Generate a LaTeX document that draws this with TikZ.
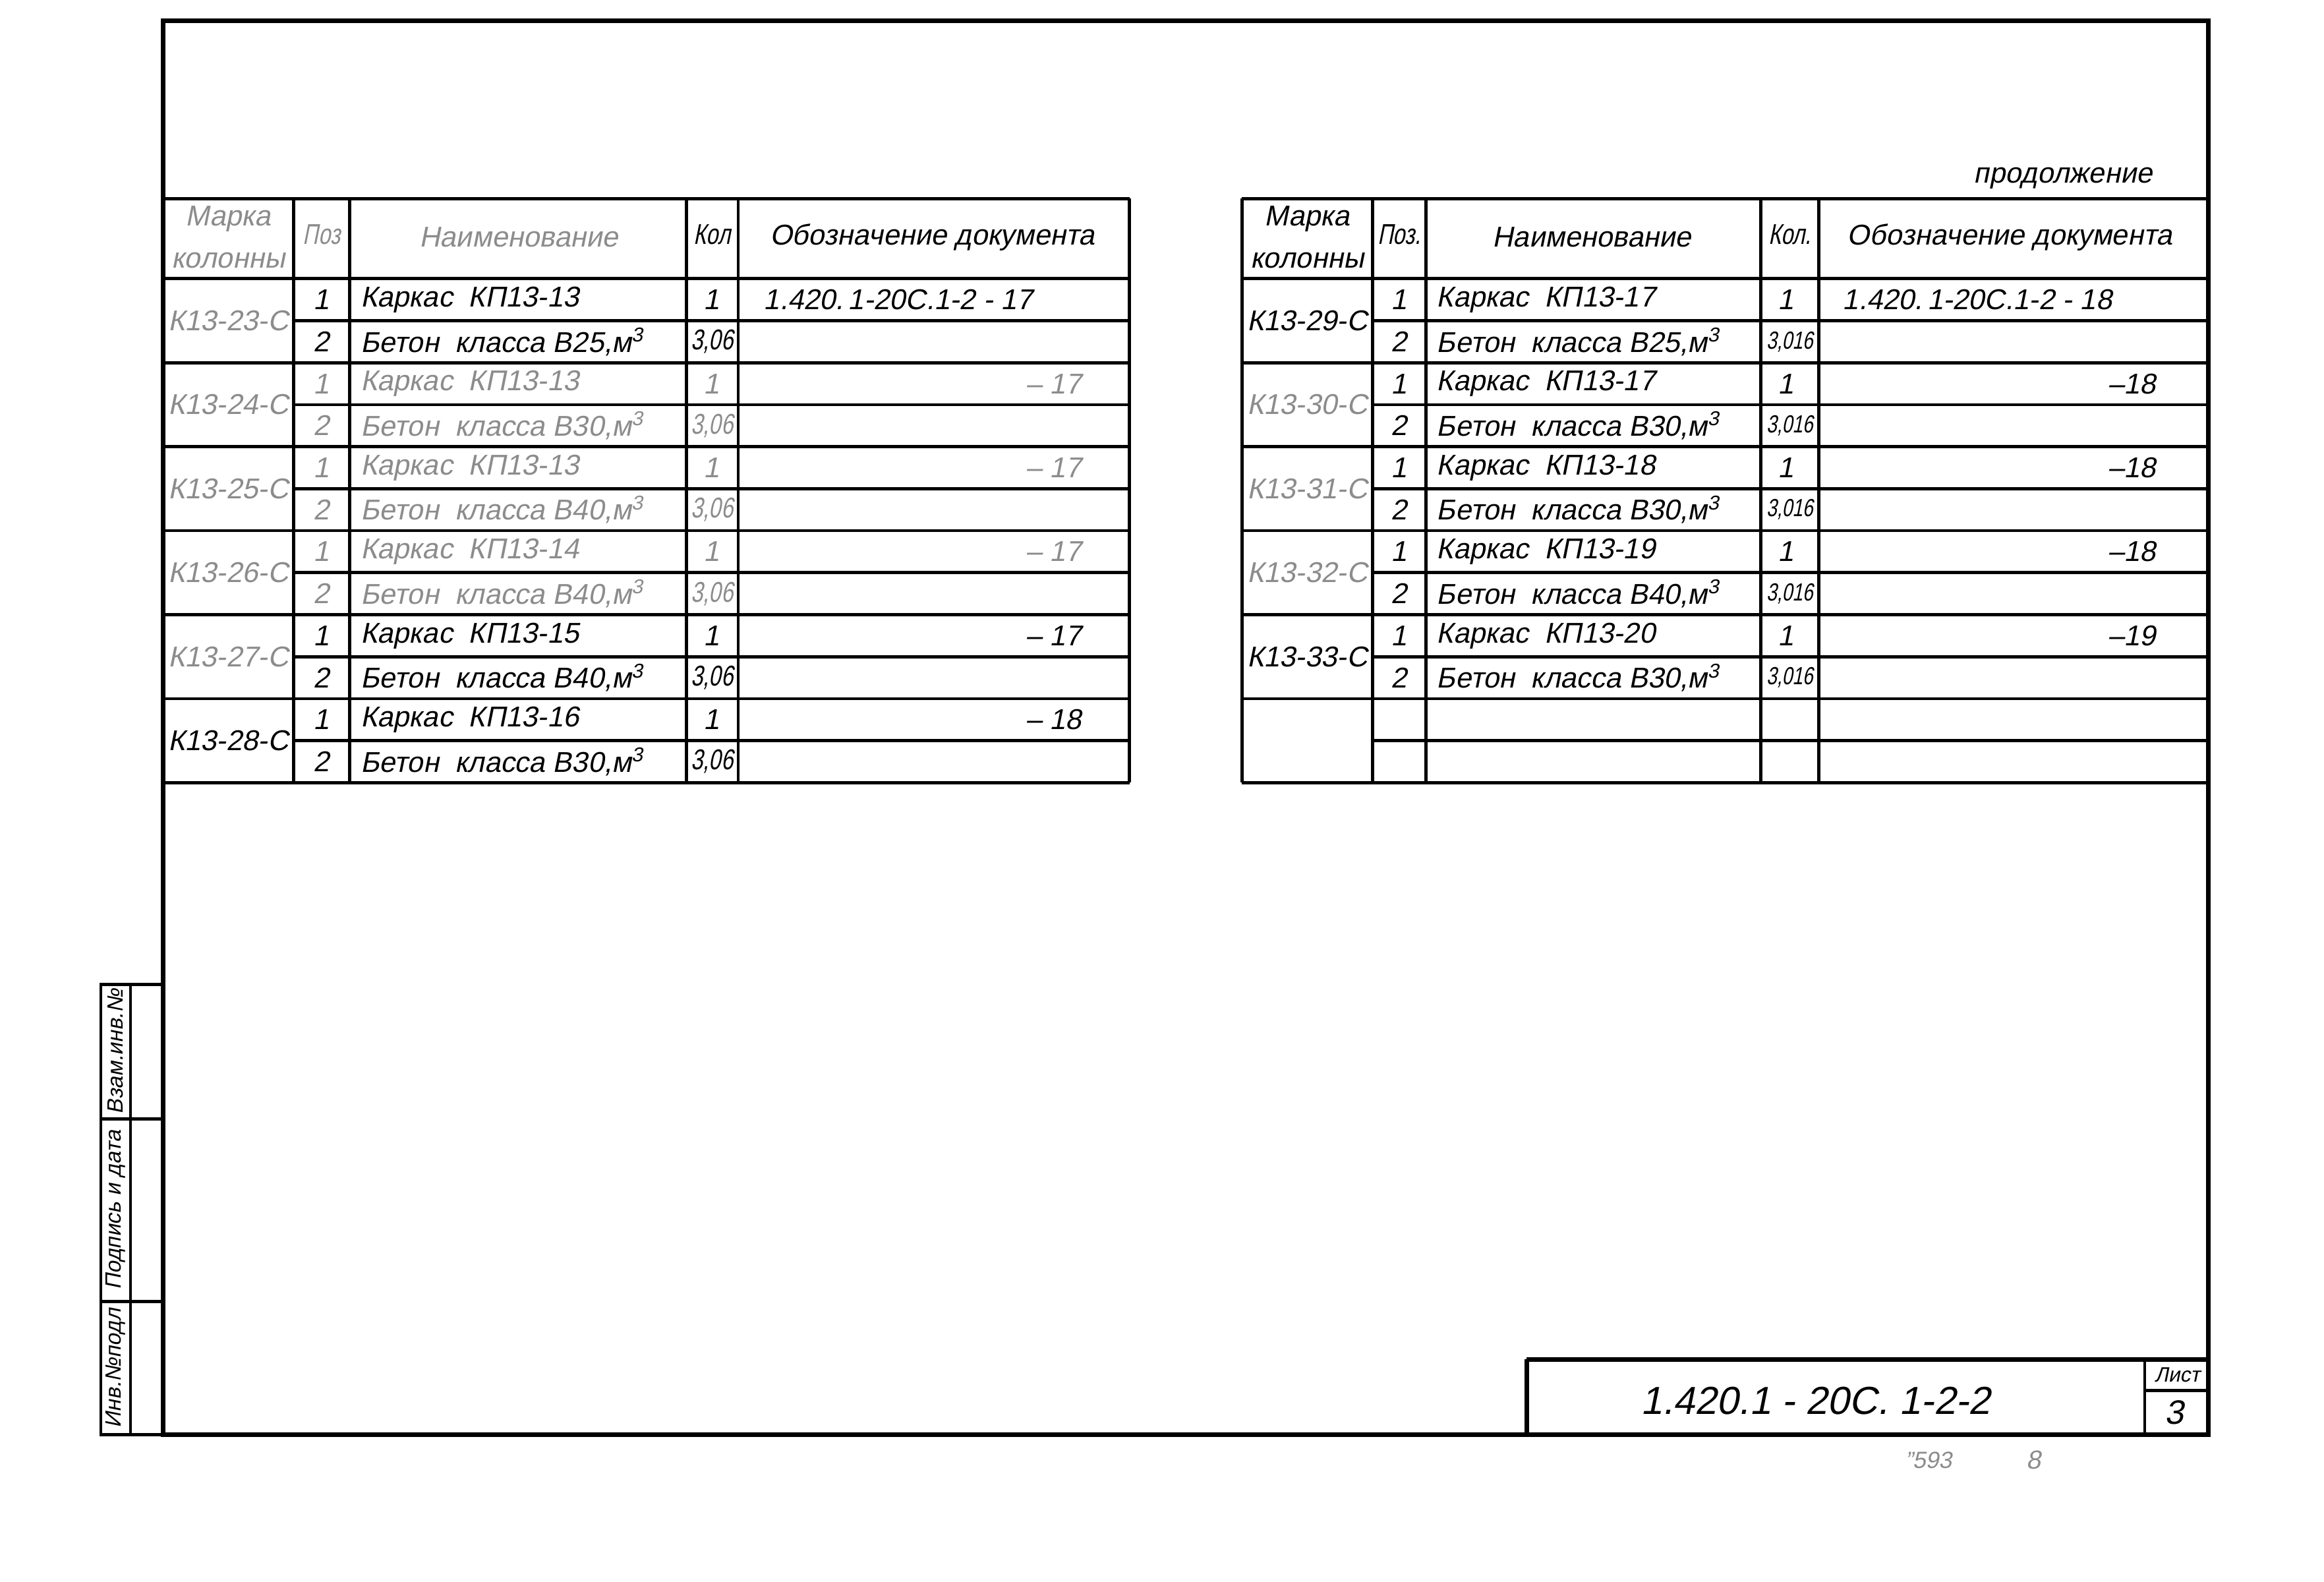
\documentclass[tikz,border=0pt]{standalone}
\usepackage{fontspec}
\setmainfont{Liberation Sans}[FakeSlant=0.2]
\newfontfamily\narrowfont{Liberation Sans}[FakeSlant=0.2, FakeStretch=0.75]
\tikzset{
  frameline/.style = {line width=1.8pt},
  tabline/.style = {line width=1.2pt},
  cell/.style = {inner sep=0pt, font=\fontsize{11}{13}\selectfont},
  headcell/.style = {inner sep=0pt, align=center, font=\fontsize{11}{16}\selectfont},
  smallhead/.style = {inner sep=0pt, font=\narrowfont\fontsize{11}{12}\selectfont},
  numcell/.style = {inner sep=0pt, font=\narrowfont\fontsize{11}{12}\selectfont},
  tightnum/.style = {inner sep=0pt, font=\narrowfont\fontsize{9.5}{12}\selectfont},
  stampcell/.style = {inner sep=0pt, rotate=90, font=\fontsize{8.5}{10}\selectfont},
  faded/.style = {text=black!45},
  dark/.style = {text=black}
}

\begin{document}
\begin{tikzpicture}[x=0.02cm, y=-0.02cm]
  \useasboundingbox (0,0) rectangle (1568,1067);

  \draw [frameline] (110,14) rectangle (1490,968);
  \draw [tabline] (68,664) rectangle (110,968);
  \draw [tabline] (88,664) -- (88,968);
  \draw [tabline] (68,755) -- (110,755) (68,878) -- (110,878);
  \node [stampcell] (vzam) at (78,709.5) {Взам.инв.№};
  \node [stampcell] (podp) at (78,816.5) {Подпись и дата};
  \node [stampcell] (inv) at (78,923) {Инв.№подл};

  % left table
  \foreach \x in {198,236,463,498,762}
    \draw [tabline] (\x,134) -- (\x,528);
  \draw [tabline] (110,134) -- (762,134);
  \foreach \i in {0,...,6}
    \draw [tabline] (110,188+56.67*\i) -- (762,188+56.67*\i);
  \foreach \i in {0,...,5}
    \draw [tabline] (198,216.33+56.67*\i) -- (762,216.33+56.67*\i);

  \node [headcell, faded] (lmark) at (154,160) {Марка\\колонны};
  \node [smallhead, faded] (lpos) at (217,158) {Поз};
  \node [headcell, faded] (lname) at (350,160) {Наименование};
  \node [smallhead] (lkol) at (480.5,158) {Кол};
  \node [headcell] (ldoc) at (629,160) {Обозначение документа};

  \foreach \mk/\kp/\bet/\doc/\mt/\rt [count=\g from 0] in
    {К13-23-С/13/25//faded/dark, К13-24-С/13/30/– 17/faded/faded,
     К13-25-С/13/40/– 17/faded/faded, К13-26-С/14/40/– 17/faded/faded,
     К13-27-С/15/40/– 17/faded/dark, К13-28-С/16/30/– 18/dark/dark}
  {
    \node [cell, \mt] (lm\g) at (154,216.33+56.67*\g) {\mk};
    \node [cell, \rt] (lpa\g) at (217,202.2+56.67*\g) {1};
    \node [cell, \rt] (lpb\g) at (217,230.5+56.67*\g) {2};
    \node [cell, \rt, anchor=west] (lna\g) at (243,202.2+56.67*\g) {Каркас\ \ КП13-\kp};
    \node [cell, \rt, anchor=west] (lnb\g) at (243,230.5+56.67*\g) {Бетон\ \ класса В\bet,м\textsuperscript{3}};
    \node [cell, \rt] (lka\g) at (480,202.2+56.67*\g) {1};
    \node [numcell, \rt] (lkb\g) at (480.5,230.5+56.67*\g) {3,06};
    \node [cell, \rt, anchor=east] (ld\g) at (730,202.2+56.67*\g) {\doc};
  }
  \node [cell, anchor=west] (ldfirst) at (515,202.2) {1.420.\,1-20С.1-2 - 17};

  % right table
  \foreach \x in {838,926,962,1188,1227}
    \draw [tabline] (\x,134) -- (\x,528);
  \draw [tabline] (838,134) -- (1490,134);
  \foreach \i in {0,...,6}
    \draw [tabline] (838,188+56.67*\i) -- (1490,188+56.67*\i);
  \foreach \i in {0,...,5}
    \draw [tabline] (926,216.33+56.67*\i) -- (1490,216.33+56.67*\i);

  \node [cell] (cont) at (1392,120) {продолжение};
  \node [headcell] (rmark) at (882,160) {Марка\\колонны};
  \node [smallhead] (rpos) at (944,158) {Поз.};
  \node [headcell] (rname) at (1074,160) {Наименование};
  \node [smallhead] (rkol) at (1207.5,158) {Кол.};
  \node [headcell] (rdoc) at (1356,160) {Обозначение документа};

  \foreach \mk/\kp/\bet/\doc/\mt/\rt [count=\g from 0] in
    {К13-29-С/17/25//dark/dark, К13-30-С/17/30/–18/faded/dark,
     К13-31-С/18/30/–18/faded/dark, К13-32-С/19/40/–18/faded/dark,
     К13-33-С/20/30/–19/dark/dark}
  {
    \node [cell, \mt] (rm\g) at (882,216.33+56.67*\g) {\mk};
    \node [cell, \rt] (rpa\g) at (944,202.2+56.67*\g) {1};
    \node [cell, \rt] (rpb\g) at (944,230.5+56.67*\g) {2};
    \node [cell, \rt, anchor=west] (rna\g) at (969,202.2+56.67*\g) {Каркас\ \ КП13-\kp};
    \node [cell, \rt, anchor=west] (rnb\g) at (969,230.5+56.67*\g) {Бетон\ \ класса В\bet,м\textsuperscript{3}};
    \node [cell, \rt] (rka\g) at (1205,202.2+56.67*\g) {1};
    \node [tightnum, \rt] (rkb\g) at (1207.5,230.5+56.67*\g) {3,016};
    \node [cell, \rt, anchor=east] (rd\g) at (1455,202.2+56.67*\g) {\doc};
  }
  \node [cell, anchor=west] (rdfirst) at (1243,202.2) {1.420.\,1-20С.1-2 - 18};

  % title block
  \draw [frameline] (1030,917) -- (1490,917) (1030,917) -- (1030,968);
  \draw [tabline] (1447,917) -- (1447,968) (1447,938) -- (1490,938);
  \node [cell, font=\fontsize{15}{17}\selectfont] (code) at (1225,945) {1.420.1 - 20С. 1-2-2};
  \node [cell, font=\fontsize{8}{9}\selectfont] (list) at (1469,927.5) {Лист};
  \node [cell, font=\fontsize{13}{15}\selectfont] (page) at (1467,953) {3};
  \node [cell, faded, font=\fontsize{9}{10}\selectfont] (arch) at (1301,985) {''593};
  \node [cell, faded, font=\fontsize{10}{11}\selectfont] (archb) at (1372,985) {8};
\end{tikzpicture}
\end{document}
